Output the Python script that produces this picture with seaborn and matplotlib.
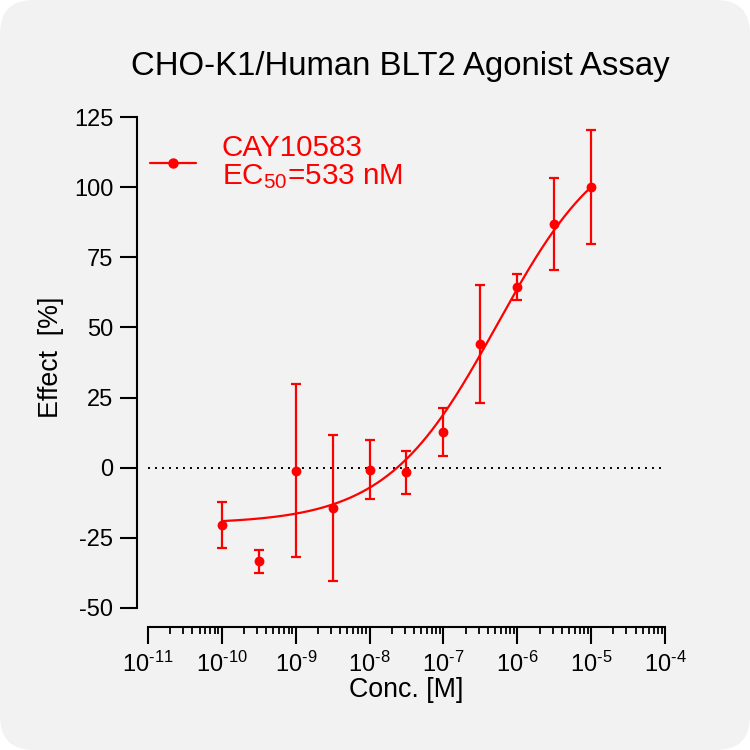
import numpy as np
import pandas as pd
import matplotlib
matplotlib.use("Agg")
import matplotlib.pyplot as plt
from matplotlib.lines import Line2D
from matplotlib.patches import FancyBboxPatch
from matplotlib.ticker import LogLocator, NullFormatter, FuncFormatter
import seaborn as sns

# measured data (mean and error of effect, %)
conc = [1e-10, 3.16e-10, 1e-9, 3.16e-9, 1e-8, 3.16e-8, 1e-7, 3.16e-7, 1e-6, 3.16e-6, 1e-5]
effect = [-20.5, -33.4, -1.0, -14.5, -0.8, -1.6, 12.8, 44.2, 64.3, 86.9, 100.0]
err = [8.2, 4.0, 31.0, 26.0, 10.5, 7.6, 8.5, 21.0, 4.6, 16.4, 20.4]

# 4-parameter logistic fit
fit_bottom = -20.0
fit_top = 122.0
fit_ec50 = 533e-9
fit_hill = 0.58

title = "CHO-K1/Human BLT2 Agonist Assay"
series_label = "CAY10583\nEC$_{50}$=533 nM"
red = "#ff0000"

sns.set_theme(style="ticks")
plt.rcParams["font.family"] = ["Liberation Sans", "DejaVu Sans"]
plt.rcParams["mathtext.fontset"] = "custom"
plt.rcParams["mathtext.rm"] = "Liberation Sans"
plt.rcParams["mathtext.it"] = "Liberation Sans"
plt.rcParams["mathtext.bf"] = "Liberation Sans"
plt.rcParams["axes.unicode_minus"] = False
plt.rcParams["text.color"] = "black"
plt.rcParams["axes.labelcolor"] = "black"

fig = plt.figure(figsize=(7.5, 7.5), dpi=100)
fig.patch.set_facecolor("white")
bg = FancyBboxPatch((0, 0), 1, 1, boxstyle="round,pad=0,rounding_size=0.045",
                    transform=fig.transFigure, facecolor="#f2f2f2", edgecolor="none", zorder=-10)
fig.patches.append(bg)

ax = fig.add_axes([148 / 750, 1 - 608 / 750, 517 / 750, 491 / 750])
ax.set_facecolor("none")

df = pd.DataFrame({"conc": conc, "effect": effect, "err": err})
xs = np.logspace(-10, -5, 300)
curve = pd.DataFrame({
    "conc": xs,
    "effect": fit_bottom + (fit_top - fit_bottom) / (1 + (fit_ec50 / xs) ** fit_hill),
})

ax.axhline(0, color="black", lw=1.4, linestyle=(0, (1, 2.6)), zorder=1)
sns.lineplot(data=curve, x="conc", y="effect", ax=ax, color=red, lw=1.6, zorder=3)
ax.errorbar(df["conc"], df["effect"], yerr=df["err"], fmt="none", ecolor=red,
            elinewidth=1.6, capsize=3.5, capthick=1.6, zorder=4)
sns.scatterplot(data=df, x="conc", y="effect", ax=ax, color=red, s=50,
                edgecolor=red, linewidth=0, zorder=5)

ax.set_xscale("log")
ax.set_xlim(1e-11, 1e-4)
ax.set_ylim(-50, 125)
ax.set_yticks([-50, -25, 0, 25, 50, 75, 100, 125])
ax.xaxis.set_major_locator(LogLocator(base=10, numticks=20))
ax.xaxis.set_minor_locator(LogLocator(base=10, subs=np.arange(2, 10), numticks=20))
ax.xaxis.set_minor_formatter(NullFormatter())
ax.xaxis.set_major_formatter(FuncFormatter(
    lambda v, pos: r"$\mathregular{10^{\text{-%d}}}$" % round(-np.log10(v))))

for side in ["top", "right"]:
    ax.spines[side].set_visible(False)
ax.spines["left"].set_position(("outward", 8))
ax.spines["bottom"].set_position(("outward", 13.5))
for side in ["left", "bottom"]:
    ax.spines[side].set_linewidth(1.5)
    ax.spines[side].set_color("black")

ax.tick_params(axis="both", which="major", length=12, width=1.5, color="black",
               labelsize=17, labelcolor="black", pad=5)
ax.tick_params(axis="x", which="minor", length=5, width=1.3, color="black")
ax.tick_params(axis="x", which="major", pad=6)

ax.set_xlabel("Conc. [M]", fontsize=19.3, labelpad=0)
ax.set_ylabel("Effect  [%]", fontsize=19.3)
ax.yaxis.set_label_coords(-0.162, 0.511)

fig.text(400 / 750, 1 - 67 / 750, title, fontsize=23.7, ha="center", va="center")

handle = Line2D([], [], color=red, lw=1.6, marker="o", markersize=6.5)
leg = ax.legend([handle], [series_label], loc="upper left",
                bbox_to_anchor=(150 / 750, 1 - 134 / 750), bbox_transform=fig.transFigure,
                frameon=False, fontsize=21.3, labelcolor=red, handlelength=1.55,
                handletextpad=0.87, borderpad=0, borderaxespad=0)
for t in leg.get_texts():
    t.set_linespacing(1.02)

fig.savefig("out.png", dpi=100, facecolor=fig.get_facecolor())
